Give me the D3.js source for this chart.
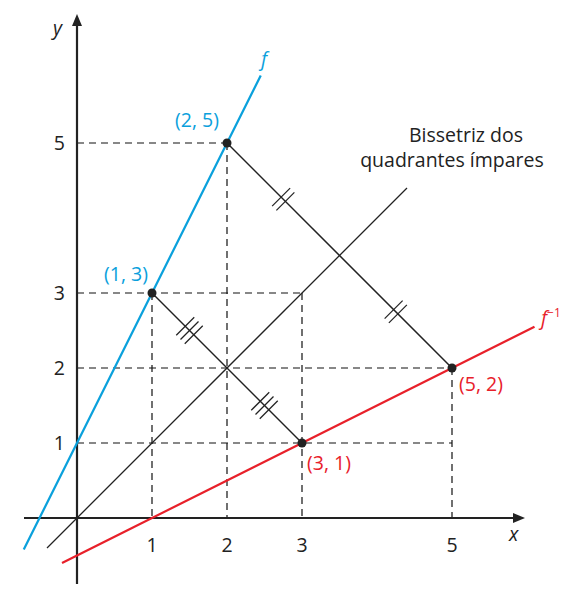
<!DOCTYPE html><html><head><meta charset="utf-8"><script src="https://cdn.jsdelivr.net/npm/d3@7"></script>
<style>body{margin:0;background:#fff}text{font-family:"Open Sans",sans-serif;font-size:19.5px}</style></head><body>
<script>
const xTicks=[1,2,3,5];
const yTicks=[1,2,3,5];
const fLine=[[-0.71,-0.42],[2.45,5.9]];
const fInvLine=[[-0.2,-0.6],[6.1,2.55]];
const bisLine=[[-0.4,-0.4],[4.4,4.4]];
const points=[{p:[1,3],l:"(1, 3)",c:"#0aa0dc"},{p:[2,5],l:"(2, 5)",c:"#0aa0dc"},{p:[3,1],l:"(3, 1)",c:"#e8202a"},{p:[5,2],l:"(5, 2)",c:"#e8202a"}];
const segments=[[[1,3],[3,1]],[[2,5],[5,2]]];
const hVals=[[5,2],[3,3],[2,5],[1,5]];
const vVals=[[1,3],[2,5],[3,3],[5,2]];
const hatches=[{at:[1.5,2.5],n:3},{at:[2.5,1.5],n:3},{at:[2.75,4.25],n:2},{at:[4.25,2.75],n:2}];

const W=569,H=603;
const svg=d3.select("body").append("svg").attr("width",W).attr("height",H);
const x=d3.scaleLinear().domain([0,1]).range([77,152]);
const y=d3.scaleLinear().domain([0,1]).range([518,443]);
const ln=d3.line().x(d=>x(d[0])).y(d=>y(d[1]));
const dash="7,5";
hVals.forEach(([v,xe])=>svg.append("line").attr("x1",x(0)).attr("x2",x(xe)).attr("y1",y(v)).attr("y2",y(v)).attr("stroke","#111").attr("stroke-width",1.2).attr("stroke-dasharray",dash));
vVals.forEach(([v,ye])=>svg.append("line").attr("x1",x(v)).attr("x2",x(v)).attr("y1",y(ye)).attr("y2",y(0)).attr("stroke","#111").attr("stroke-width",1.2).attr("stroke-dasharray",dash));
svg.append("line").attr("x1",24).attr("x2",518).attr("y1",y(0)).attr("y2",y(0)).attr("stroke","#222").attr("stroke-width",2.2);
svg.append("path").attr("d",`M525,${y(0)} l-12,-5 l0,10z`).attr("fill","#222");
svg.append("line").attr("x1",x(0)).attr("x2",x(0)).attr("y1",584).attr("y2",22).attr("stroke","#222").attr("stroke-width",2.2);
svg.append("path").attr("d",`M${x(0)},14 l-5,12 l10,0z`).attr("fill","#222");
xTicks.forEach(t=>svg.append("text").attr("x",x(t)).attr("y",y(0)+34).attr("text-anchor","middle").attr("fill","#222").text(t));
yTicks.forEach(t=>svg.append("text").attr("x",x(0)-12).attr("y",y(t)+7).attr("text-anchor","end").attr("fill","#222").text(t));
svg.append("text").attr("x",509).attr("y",541).attr("font-style","italic").attr("fill","#222").text("x");
svg.append("text").attr("x",53).attr("y",35).attr("font-style","italic").attr("fill","#222").text("y");
svg.append("path").attr("d",ln(bisLine)).attr("stroke","#222").attr("stroke-width",1.3).attr("fill","none");
svg.append("path").attr("d",ln(fLine)).attr("stroke","#0aa0dc").attr("stroke-width",2.2).attr("fill","none");
svg.append("path").attr("d",ln(fInvLine)).attr("stroke","#e8202a").attr("stroke-width",2.2).attr("fill","none");
segments.forEach(s=>svg.append("path").attr("d",ln(s)).attr("stroke","#222").attr("stroke-width",1.5).attr("fill","none"));
hatches.forEach(h=>{const cx=x(h.at[0]),cy=y(h.at[1]);
 for(let i=0;i<h.n;i++){const o=(i-(h.n-1)/2)*6;const bx=cx+o/Math.SQRT2,by=cy+o/Math.SQRT2;
  svg.append("line").attr("x1",bx-9).attr("y1",by+9).attr("x2",bx+9).attr("y2",by-9).attr("stroke","#222").attr("stroke-width",1.3);}});
points.forEach(p=>svg.append("circle").attr("cx",x(p.p[0])).attr("cy",y(p.p[1])).attr("r",4.5).attr("fill","#222"));
const lab=[[104,281],[175,127],[307,470],[459,391]];
points.forEach((p,i)=>svg.append("text").attr("x",lab[i][0]).attr("y",lab[i][1]).attr("fill",p.c).text(p.l));
svg.append("text").attr("x",261).attr("y",66).attr("font-style","italic").attr("fill","#0aa0dc").text("f");
svg.append("text").attr("x",541).attr("y",325).attr("font-style","italic").attr("fill","#e8202a").text("f").append("tspan").attr("dy",-8).attr("font-size",12).attr("font-style","normal").text("−1");
svg.append("text").attr("x",466).attr("y",142).attr("text-anchor","middle").attr("fill","#222").text("Bissetriz dos");
svg.append("text").attr("x",452).attr("y",167).attr("text-anchor","middle").attr("fill","#222").text("quadrantes ímpares");
</script></body></html>
